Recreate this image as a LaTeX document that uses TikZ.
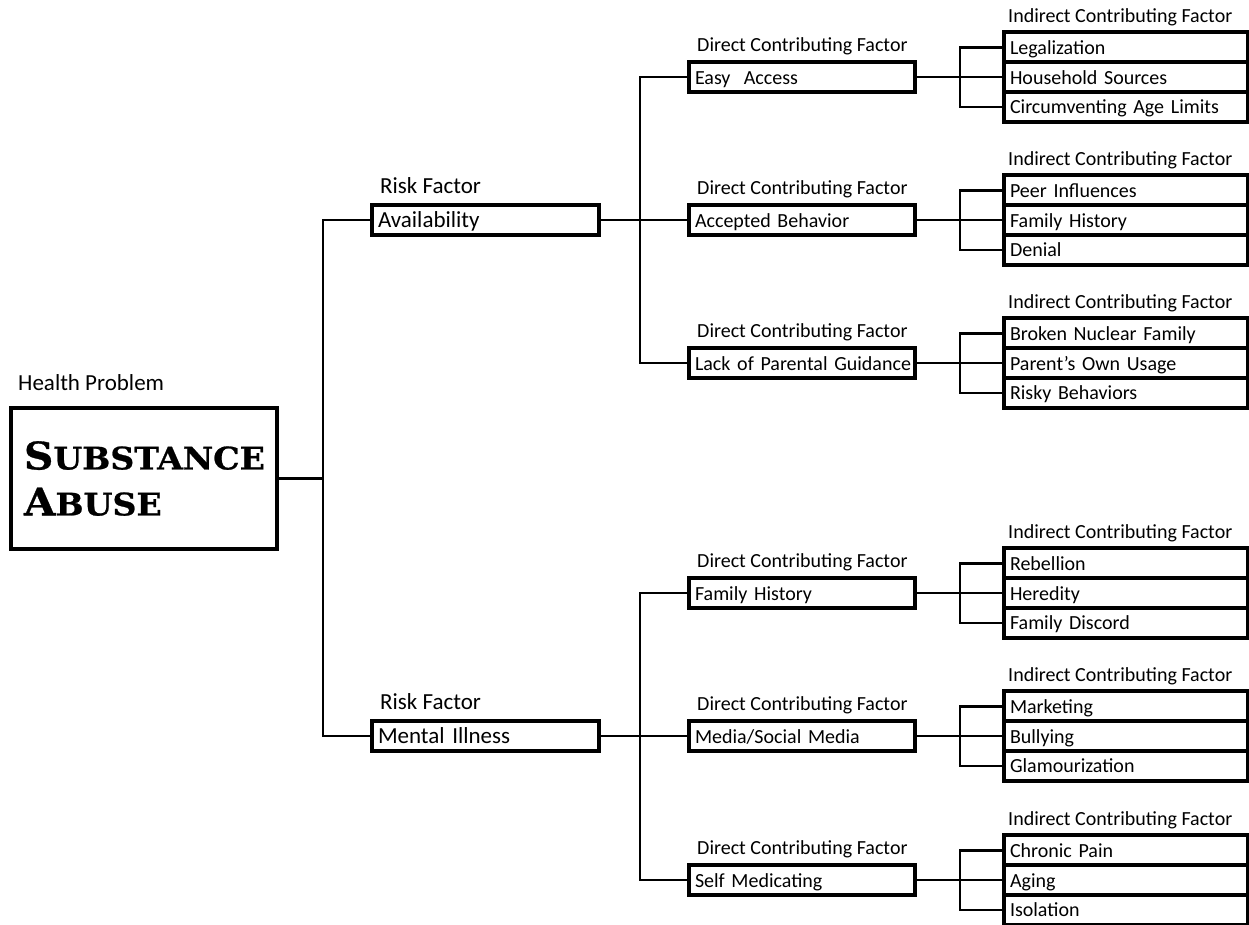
\documentclass[tikz,border=0pt]{standalone}
\usepackage{fontspec}
\setmainfont{Carlito}
\newfontfamily\titlefont[BoldFeatures={FakeStretch=1.07,FakeBold=0.8}]{DejaVu Serif}
% big-initial small caps for the problem title
\newcommand\capword[2]{{\fontsize{38}{46}\selectfont #1}{\fontsize{31}{46}\selectfont #2}}
\tikzset{
  boxline/.style={draw=black, line width=4pt, rectangle},
  conn/.style={draw=black, line width=2.4pt},
  labsmall/.style={inner sep=0pt, anchor=base west, font=\fontsize{20}{24}\selectfont},
  labbig/.style={inner sep=0pt, anchor=base west, font=\fontsize{23}{27}\selectfont},
  rowbox/.style={boxline, anchor=west, inner xsep=6pt, inner ysep=0pt,
    minimum height=29.7pt, text height=15pt, text depth=1pt, align=left},
  riskbox/.style={rowbox, text width=215pt, font=\fontsize{23}{27}\selectfont},
  dirbox/.style={rowbox, text width=214pt, font=\fontsize{20}{24}\selectfont},
  indbox/.style={rowbox, text width=232pt, font=\fontsize{20}{24}\selectfont},
  mainbox/.style={boxline, minimum width=266pt, minimum height=141pt, inner xsep=13pt,
    text width=240pt, align=left, font=\titlefont\bfseries\fontsize{31}{46}\selectfont},
}
% one direct factor with its three indirect factors
% #1 name, #2 centre y, #3 direct text, #4-#6 indirect texts
\newcommand\factorgroup[6]{%
  \node[dirbox] (#1) at (687,#2) {\mbox{#3}};
  \node[labsmall] (#1-lab) at (697,{#2-25.5}) {Direct Contributing Factor};
  \node[indbox] (#1-a) at (1002,{#2-29.7}) {\mbox{#4}};
  \node[indbox] (#1-b) at (1002,#2) {\mbox{#5}};
  \node[indbox] (#1-c) at (1002,{#2+29.7}) {\mbox{#6}};
  \node[labsmall] (#1-ilab) at (1008,{#2-54.7}) {Indirect Contributing Factor};
  \draw[conn] (#1.east) -- (#1-b.west);
  \draw[conn] (#1-a.west) -- (#1-a.west -| spineC) |- (#1-c.west);
}
\begin{document}
\begin{tikzpicture}[x=1pt,y=-1pt]
\useasboundingbox[fill=white] (0,0) rectangle (1249,924);

\coordinate (spineA) at (323,0);
\coordinate (spineB) at (640,0);
\coordinate (spineC) at (960,0);

% health problem
\node[labbig] (hp-lab) at (18,390) {Health Problem};
\node[mainbox] (sa) at (144,478.5) {\capword{S}{UBSTANCE}\\\capword{A}{BUSE}};

% risk factors
\node[labbig] (avail-lab) at (380,193) {Risk Factor};
\node[riskbox] (avail) at (370,220) {\mbox{Availability}};
\node[labbig] (mental-lab) at (380,709) {Risk Factor};
\node[riskbox] (mental) at (370,736) {\mbox{Mental Illness}};

\draw[conn] (sa.east) -- (sa.east -| spineA);
\draw[conn] (avail.west) -- (avail.west -| spineA) |- (mental.west);

% direct and indirect factors
\factorgroup{easy}{77}{Easy~ Access}{Legalization}{Household Sources}{Circumventing Age Limits}
\factorgroup{accepted}{220}{Accepted Behavior}{Peer Influences}{Family History}{Denial}
\factorgroup{guidance}{363}{Lack of Parental Guidance}{Broken Nuclear Family}{Parent’s Own Usage}{Risky Behaviors}
\factorgroup{history}{593}{Family History}{Rebellion}{Heredity}{Family Discord}
\factorgroup{media}{736}{Media/Social Media}{Marketing}{Bullying}{Glamourization}
\factorgroup{selfmed}{880}{Self Medicating}{Chronic Pain}{Aging}{Isolation}

\draw[conn] (avail.east) -- (accepted.west);
\draw[conn] (easy.west) -- (easy.west -| spineB) |- (guidance.west);
\draw[conn] (mental.east) -- (media.west);
\draw[conn] (history.west) -- (history.west -| spineB) |- (selfmed.west);
\end{tikzpicture}
\end{document}
